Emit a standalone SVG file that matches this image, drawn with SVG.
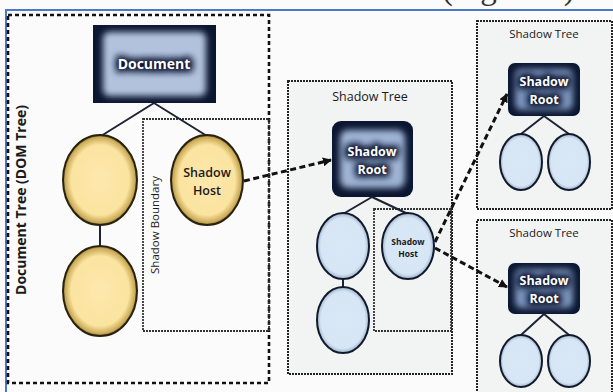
<svg xmlns="http://www.w3.org/2000/svg" width="613" height="392" viewBox="0 0 613 392">
  <defs>
    <style>
      .bg { fill: #fbfbfb; }
      .frame { stroke: #4a78cc; stroke-width: 2; fill: none; }
      .outer { fill: none; stroke: #111; stroke-width: 2.6; stroke-dasharray: 4 3; }
      .tree { fill: #f2f3f3; stroke: #222; stroke-width: 2; stroke-dasharray: 2 1; }
      .bound { fill: none; stroke: #333; stroke-width: 1.8; stroke-dasharray: 2 1; }
      .edge { stroke: #1c2333; stroke-width: 2; fill: none; }
      .link { stroke: #111; stroke-width: 3; stroke-dasharray: 6 3.5; fill: none; marker-end: url(#arrow); }
      .yel { fill: url(#gYel); stroke: #2a2210; stroke-width: 2; }
      .blu { fill: url(#gBlu); stroke: #101a2c; stroke-width: 2; }
      .navy { fill: #0b1631; }
      .lbl { font-family: "Open Sans", "DejaVu Sans", sans-serif; fill: #1a1a1a; text-anchor: middle; }
      .nodeTxt { font-family: "Open Sans", "DejaVu Sans", sans-serif; font-weight: 700; fill: #fff; text-anchor: middle; }
      .halo { font-family: "Open Sans", "DejaVu Sans", sans-serif; font-weight: 700; fill: #0b1631; stroke: #0b1631; stroke-width: 7; stroke-linejoin: round; text-anchor: middle; filter: url(#softS); }
      .cap { font-family: "Liberation Serif", serif; font-size: 33px; fill: #333; }
    </style>
    <radialGradient id="gYel" cx="50%" cy="50%" r="50%">
      <stop offset="0" stop-color="#fde8ac"/>
      <stop offset="0.78" stop-color="#fbe3a0"/>
      <stop offset="0.95" stop-color="#c8a954"/>
      <stop offset="1" stop-color="#6d5a24"/>
    </radialGradient>
    <radialGradient id="gBlu" cx="50%" cy="50%" r="50%">
      <stop offset="0" stop-color="#d9e8f6"/>
      <stop offset="0.85" stop-color="#d6e6f5"/>
      <stop offset="1" stop-color="#9fb3c8"/>
    </radialGradient>
    <filter id="softS" x="-30%" y="-50%" width="160%" height="200%">
      <feGaussianBlur stdDeviation="3"/>
    </filter>
    <marker id="arrow" viewBox="0 0 10 10" refX="9" refY="5" markerWidth="3" markerHeight="3" orient="auto" markerUnits="strokeWidth">
      <path d="M0,0 L10,5 L0,10 z" fill="#111"/>
    </marker>
  </defs>

  <rect class="bg" x="0" y="0" width="613" height="392"/>
  <text class="cap" x="583" y="-1" text-anchor="end">Shadow DOM structure (Figure 1).</text>
  <path class="frame" d="M6,392 V10 H613"/>

  <!-- document tree container -->
  <g id="document-tree">
    <rect class="outer" x="8" y="15" width="261" height="368"/>
    <text class="lbl" transform="translate(26,200) rotate(-90)" font-size="14" font-weight="700">Document Tree (DOM Tree)</text>
  </g>
  <g id="shadow-boundary">
    <rect class="bound" x="143" y="119" width="126" height="212"/>
    <text class="lbl" transform="translate(159,225) rotate(-90)" font-size="11.5">Shadow Boundary</text>
  </g>

  <!-- shadow tree containers -->
  <g id="shadow-tree-mid">
    <rect class="tree" x="288" y="81" width="164" height="293"/>
    <text class="lbl" x="370" y="101" font-size="12.5">Shadow Tree</text>
  </g>
  <g id="shadow-boundary-mid">
    <rect class="bound" x="374" y="209" width="77" height="122"/>
  </g>
  <g id="shadow-tree-top">
    <rect class="tree" x="477" y="21" width="135" height="188"/>
    <text class="lbl" x="544" y="38" font-size="11.5">Shadow Tree</text>
  </g>
  <g id="shadow-tree-bottom">
    <rect class="tree" x="477" y="220" width="135" height="180"/>
    <text class="lbl" x="544" y="237" font-size="11.5">Shadow Tree</text>
  </g>

  <!-- tree edges and shadow links -->
  <g id="connectors">
    <path class="edge" d="M154,103 L101,136 M154,103 L207,136 M100,225 V246"/>
    <path class="edge" d="M372,197 L343,214 M372,197 L408,214 M343,279 V287"/>
    <path class="edge" d="M544,116 L521,134 M544,116 L569,134"/>
    <path class="edge" d="M544,314 L521,335 M544,314 L569,335"/>
    <path class="link" d="M244,181 L331,160"/>
    <path class="link" d="M435,242 L507,94"/>
    <path class="link" d="M435,248 L507,287"/>
  </g>

  <!-- nodes -->
  <g id="document">
    <rect class="navy" x="93" y="25" width="123" height="78"/>
    <rect x="103" y="32" width="103" height="64" rx="6" fill="#b2c2dd" filter="url(#softS)"/>
    <text class="halo" x="154" y="69" font-size="14">Document</text>
    <text class="nodeTxt" x="154" y="69" font-size="14">Document</text>
  </g>
  <g id="doc-child-1"><ellipse class="yel" cx="100" cy="180" rx="37" ry="45"/></g>
  <g id="doc-child-2"><ellipse class="yel" cx="100" cy="291" rx="37" ry="45"/></g>
  <g id="shadow-host">
    <ellipse class="yel" cx="207" cy="180" rx="36" ry="45"/>
    <text class="lbl" x="207" y="177" font-size="12.5" font-weight="600" fill="#2a2410">Shadow</text>
    <text class="lbl" x="207" y="195" font-size="12.5" font-weight="600" fill="#2a2410">Host</text>
  </g>

  <g id="shadow-root-mid">
    <rect class="navy" x="332" y="121" width="81" height="76" rx="9"/>
    <rect x="340" y="130" width="65" height="58" rx="8" fill="#9fb4d4" filter="url(#softS)"/>
    <text class="halo" x="372" y="156" font-size="12.5">Shadow</text>
    <text class="halo" x="372" y="174" font-size="12.5">Root</text>
    <text class="nodeTxt" x="372" y="156" font-size="12.5">Shadow</text>
    <text class="nodeTxt" x="372" y="174" font-size="12.5">Root</text>
  </g>
  <g id="mid-child-1"><ellipse class="blu" cx="343" cy="246" rx="26" ry="33"/></g>
  <g id="mid-child-2"><ellipse class="blu" cx="343" cy="320" rx="26" ry="33"/></g>
  <g id="shadow-host-mid">
    <ellipse class="blu" cx="408" cy="246" rx="26" ry="33"/>
    <text class="lbl" x="408" y="245" font-size="8.5" font-weight="700" fill="#1a1f2c">Shadow</text>
    <text class="lbl" x="408" y="257" font-size="8.5" font-weight="700" fill="#1a1f2c">Host</text>
  </g>

  <g id="shadow-root-top">
    <rect class="navy" x="508" y="63" width="72" height="53" rx="7"/>
    <rect x="515" y="69" width="58" height="41" rx="6" fill="#7d95bd" filter="url(#softS)"/>
    <text class="halo" x="544" y="86" font-size="12.5">Shadow</text>
    <text class="halo" x="544" y="104" font-size="12.5">Root</text>
    <text class="nodeTxt" x="544" y="86" font-size="12.5">Shadow</text>
    <text class="nodeTxt" x="544" y="104" font-size="12.5">Root</text>
  </g>
  <g id="top-child-1"><ellipse class="blu" cx="521" cy="162" rx="21" ry="28"/></g>
  <g id="top-child-2"><ellipse class="blu" cx="569" cy="162" rx="21" ry="28"/></g>

  <g id="shadow-root-bottom">
    <rect class="navy" x="508" y="263" width="72" height="51" rx="7"/>
    <rect x="515" y="269" width="58" height="39" rx="6" fill="#7d95bd" filter="url(#softS)"/>
    <text class="halo" x="544" y="285" font-size="12.5">Shadow</text>
    <text class="halo" x="544" y="303" font-size="12.5">Root</text>
    <text class="nodeTxt" x="544" y="285" font-size="12.5">Shadow</text>
    <text class="nodeTxt" x="544" y="303" font-size="12.5">Root</text>
  </g>
  <g id="bottom-child-1"><ellipse class="blu" cx="521" cy="361" rx="21" ry="26"/></g>
  <g id="bottom-child-2"><ellipse class="blu" cx="569" cy="361" rx="21" ry="26"/></g>
</svg>
